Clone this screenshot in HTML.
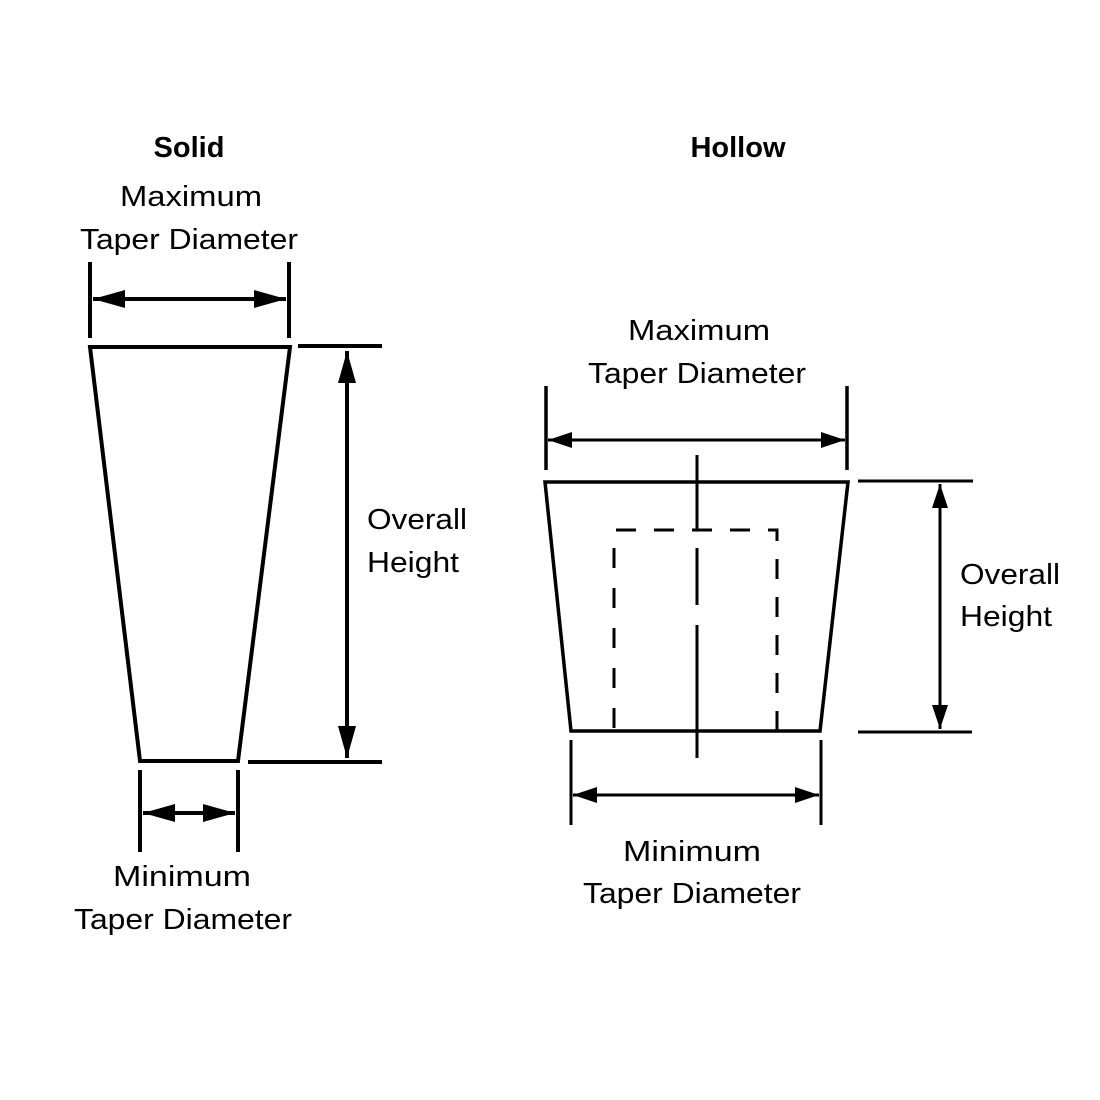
<!DOCTYPE html>
<html><head><style>html,body{margin:0;padding:0;background:#fff}svg{display:block}</style></head>
<body>
<svg width="1100" height="1100" viewBox="0 0 1100 1100" xmlns="http://www.w3.org/2000/svg" font-family="Liberation Sans, DejaVu Sans, sans-serif" fill="#000">
<defs>
<marker id="b" viewBox="0 0 32 18" refX="32" refY="9" markerWidth="32" markerHeight="18" markerUnits="userSpaceOnUse" orient="auto-start-reverse"><path d="M0,0 L32,9 L0,18 z"/></marker>
<marker id="c" viewBox="0 0 24 16" refX="24" refY="8" markerWidth="24" markerHeight="16" markerUnits="userSpaceOnUse" orient="auto-start-reverse"><path d="M0,0 L24,8 L0,16 z"/></marker>
</defs>
<g font-size="29" lengthAdjust="spacingAndGlyphs">
<text x="189" y="157" font-weight="bold" text-anchor="middle" font-size="29">Solid</text>
<text x="738" y="157" font-weight="bold" text-anchor="middle" font-size="29">Hollow</text>
<text x="191" y="206" text-anchor="middle" textLength="142" lengthAdjust="spacingAndGlyphs">Maximum</text>
<text x="189" y="249" text-anchor="middle" textLength="218" lengthAdjust="spacingAndGlyphs">Taper Diameter</text>
<text x="367" y="529" textLength="100" lengthAdjust="spacingAndGlyphs">Overall</text>
<text x="367" y="572" textLength="92" lengthAdjust="spacingAndGlyphs">Height</text>
<text x="182" y="886" text-anchor="middle" textLength="138" lengthAdjust="spacingAndGlyphs">Minimum</text>
<text x="183" y="929" text-anchor="middle" textLength="218" lengthAdjust="spacingAndGlyphs">Taper Diameter</text>
<text x="699" y="340" text-anchor="middle" textLength="142" lengthAdjust="spacingAndGlyphs">Maximum</text>
<text x="697" y="383" text-anchor="middle" textLength="218" lengthAdjust="spacingAndGlyphs">Taper Diameter</text>
<text x="960" y="584" textLength="100" lengthAdjust="spacingAndGlyphs">Overall</text>
<text x="960" y="626" textLength="92" lengthAdjust="spacingAndGlyphs">Height</text>
<text x="692" y="861" text-anchor="middle" textLength="138" lengthAdjust="spacingAndGlyphs">Minimum</text>
<text x="692" y="903" text-anchor="middle" textLength="218" lengthAdjust="spacingAndGlyphs">Taper Diameter</text>
</g>
<g stroke="#000" fill="none" stroke-width="4">
<path d="M90,347 L290,347 L238,761 L140,761 Z" stroke-linejoin="miter"/>
<line x1="90" y1="262" x2="90" y2="338"/>
<line x1="289" y1="262" x2="289" y2="338"/>
<line x1="93" y1="299" x2="286" y2="299" marker-start="url(#b)" marker-end="url(#b)"/>
<line x1="298" y1="346" x2="382" y2="346"/>
<line x1="248" y1="762" x2="382" y2="762"/>
<line x1="347" y1="351" x2="347" y2="758" marker-start="url(#b)" marker-end="url(#b)"/>
<line x1="140" y1="770" x2="140" y2="852"/>
<line x1="238" y1="770" x2="238" y2="852"/>
<line x1="143" y1="813" x2="235" y2="813" marker-start="url(#b)" marker-end="url(#b)"/>
<path d="M545,482 L848,482 L820,731 L571,731 Z" stroke-width="3.5"/>
<line x1="546" y1="386" x2="546" y2="470" stroke-width="3.5"/>
<line x1="847" y1="386" x2="847" y2="470" stroke-width="3.5"/>
<line x1="548" y1="440" x2="845" y2="440" stroke-width="3" marker-start="url(#c)" marker-end="url(#c)"/>
<line x1="858" y1="481" x2="973" y2="481" stroke-width="3"/>
<line x1="858" y1="732" x2="972" y2="732" stroke-width="3"/>
<line x1="940" y1="484" x2="940" y2="729" stroke-width="3" marker-start="url(#c)" marker-end="url(#c)"/>
<line x1="571" y1="740" x2="571" y2="825" stroke-width="3"/>
<line x1="821" y1="740" x2="821" y2="825" stroke-width="3"/>
<line x1="573" y1="795" x2="819" y2="795" stroke-width="3" marker-start="url(#c)" marker-end="url(#c)"/>
<g stroke-width="3">
<line x1="697" y1="455" x2="697" y2="530"/>
<line x1="697" y1="548" x2="697" y2="605"/>
<line x1="697" y1="625" x2="697" y2="758"/>
<path d="M616,530 L777,530 L777,731" stroke-dasharray="20,18"/>
<line x1="614" y1="548" x2="614" y2="731" stroke-dasharray="20,20"/>
</g>
</g>
</svg>
</body></html>
